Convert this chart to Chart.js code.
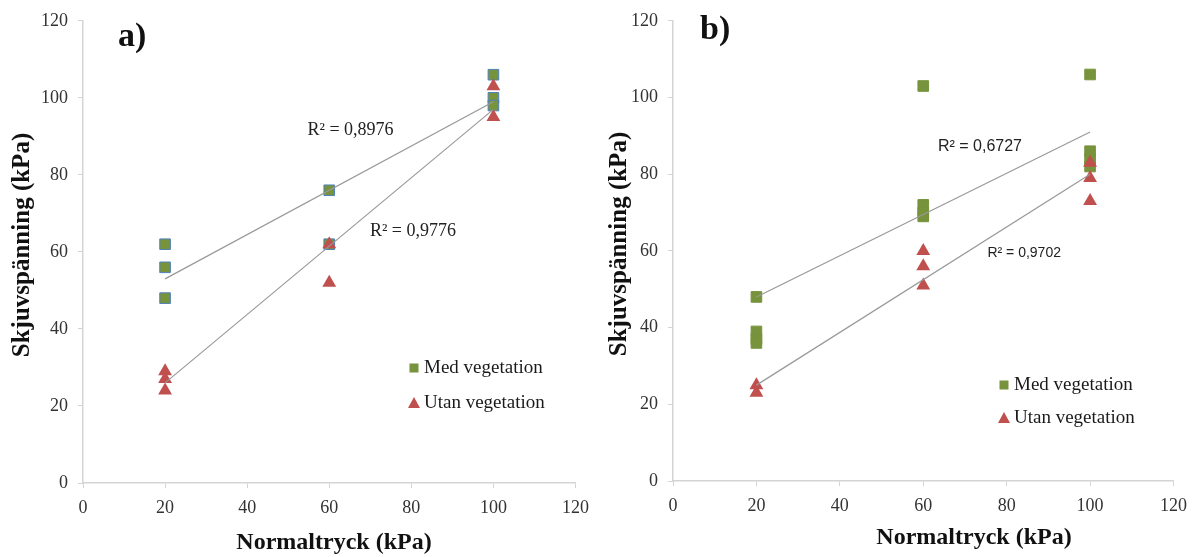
<!DOCTYPE html>
<html>
<head>
<meta charset="utf-8">
<script src="https://cdn.jsdelivr.net/npm/chart.js@4.4.0/dist/chart.umd.min.js"></script>
<style>
  html, body { margin:0; padding:0; background:#fff; }
  #wrap { position:relative; width:1196px; height:557px; }
  .panel { position:absolute; top:0; width:598px; height:557px; }
</style>
</head>
<body>
<div id="wrap">
  <div class="panel" style="left:0"><canvas id="chartA" width="598" height="557"></canvas></div>
  <div class="panel" style="left:598px"><canvas id="chartB" width="598" height="557"></canvas></div>
</div>
<script>
// Skjuvspänning vs normaltryck, med / utan vegetation
const seriesNames = ['Med vegetation', 'Utan vegetation'];
const xTitle = 'Normaltryck (kPa)';
const yTitle = 'Skjuvspänning (kPa)';
const axisMin = 0, axisMax = 120, axisStep = 20;

// panel a
const medAx  = [20, 20, 20, 60, 60, 100, 100, 100];
const medAy  = [62, 56, 48, 76, 62, 106, 100, 98];
const utanAx = [20, 20, 20, 60, 60, 100, 100];
const utanAy = [29, 27, 24, 62, 52, 103, 95];
const trendAx = [20, 100];
const trendMedAy  = [53, 99];
const trendUtanAy = [26, 97];
const r2A = ['R² = 0,8976', 'R² = 0,9776'];

// panel b
const medBx  = [20, 20, 20, 20, 60, 60, 60, 60, 100, 100, 100, 100];
const medBy  = [48, 39, 37, 36, 103, 72, 70, 69, 106, 86, 84, 82];
const utanBx = [20, 20, 60, 60, 60, 100, 100, 100];
const utanBy = [25, 23, 60, 56, 51, 83, 79, 73];
const trendBx = [20, 100];
const trendMedBy  = [48, 91];
const trendUtanBy = [25, 80];
const r2B = ['R² = 0,6727', 'R² = 0,9702'];

const GREEN = '#77933C', BLUE = '#4F81BD', RED = '#C0504D', LINE = '#999999', AXIS = '#d4d4d4';
const SERIF = '"Liberation Serif", "Times New Roman", serif';
const SANS = '"Liberation Sans", Arial, sans-serif';

function pts(xs, ys) { return xs.map((x, i) => ({x: x, y: ys[i]})); }

// free text: panel letter, axis titles, R² labels and the legend
const textPlugin = {
  id: 'panelText',
  afterDraw(chart, args, o) {
    const ctx = chart.ctx, sx = chart.scales.x, sy = chart.scales.y;
    ctx.save();
    ctx.fillStyle = '#111';
    ctx.textBaseline = 'middle';
    // panel letter
    ctx.font = 'bold 34px ' + SERIF;
    ctx.textAlign = 'left';
    ctx.fillText(o.letter, o.letterPos[0], o.letterPos[1]);
    // axis titles
    ctx.textAlign = 'center';
    ctx.font = 'bold 24px ' + SERIF;
    ctx.fillText(xTitle, o.xTitlePos[0], o.xTitlePos[1]);
    ctx.save();
    ctx.font = 'bold 25px ' + SERIF;
    ctx.translate(o.yTitlePos[0], o.yTitlePos[1]);
    ctx.rotate(-Math.PI / 2);
    ctx.fillText(yTitle, 0, 0);
    ctx.restore();
    // R² labels
    ctx.fillStyle = '#222';
    o.r2.forEach(r => {
      ctx.font = r.font;
      ctx.fillText(r.text, sx.getPixelForValue(r.at[0]), sy.getPixelForValue(r.at[1]));
    });
    // legend
    ctx.textAlign = 'left';
    ctx.font = '19px ' + SERIF;
    seriesNames.forEach((name, i) => {
      const mx = o.legend[0], my = o.legend[1] + i * o.legend[2];
      if (i === 0) {
        ctx.fillStyle = GREEN;
        ctx.fillRect(mx - 4.5, my - 4.5, 9, 9);
      } else {
        ctx.fillStyle = RED;
        ctx.beginPath();
        ctx.moveTo(mx, my - 6); ctx.lineTo(mx + 6, my + 5); ctx.lineTo(mx - 6, my + 5);
        ctx.closePath(); ctx.fill();
      }
      ctx.fillStyle = '#1a1a1a';
      ctx.fillText(name, mx + 10, my);
    });
    ctx.restore();
  }
};

function makeChart(id, d, lay, opts) {
  return new Chart(document.getElementById(id), {
    type: 'scatter',
    data: {
      datasets: [
        {label: 'trend med', data: pts(d.tx, d.tMed), showLine: true, borderColor: LINE, borderWidth: 1.2, pointRadius: 0},
        {label: 'trend utan', data: pts(d.tx, d.tUtan), showLine: true, borderColor: LINE, borderWidth: 1.2, pointRadius: 0},
        {label: seriesNames[1], data: pts(d.ux, d.uy), pointStyle: 'triangle', pointRadius: 8,
         backgroundColor: RED, borderColor: RED, borderWidth: 0},
        {label: seriesNames[0], data: pts(d.mx, d.my), pointStyle: 'rect', pointRadius: 7.5,
         backgroundColor: GREEN, borderColor: d.sqBorder, borderWidth: 1}
      ]
    },
    options: {
      responsive: false,
      animation: false,
      devicePixelRatio: 1,
      layout: {padding: {left: 0, right: lay.right, top: lay.top, bottom: 0}},
      plugins: {legend: {display: false}, tooltip: {enabled: false}, panelText: opts},
      scales: {
        x: {
          type: 'linear', min: axisMin, max: axisMax,
          afterFit: s => { s.height = lay.xh; },
          ticks: {stepSize: axisStep, padding: 9, color: '#333', font: {family: SERIF, size: 18}},
          grid: {drawOnChartArea: false, tickLength: 5, color: AXIS},
          border: {color: AXIS, width: 1.5}
        },
        y: {
          type: 'linear', min: axisMin, max: axisMax,
          afterFit: s => { s.width = lay.yw; },
          ticks: {stepSize: axisStep, padding: 10, color: '#333', font: {family: SERIF, size: 18}},
          grid: {drawOnChartArea: false, tickLength: 5, color: AXIS},
          border: {color: AXIS, width: 1.5}
        }
      }
    },
    plugins: [textPlugin]
  });
}

makeChart('chartA',
  {mx: medAx, my: medAy, ux: utanAx, uy: utanAy, tx: trendAx, tMed: trendMedAy, tUtan: trendUtanAy, sqBorder: BLUE},
  {right: 18, top: 15, xh: 74, yw: 83},
  {letter: 'a)', letterPos: [118, 37], xTitlePos: [334, 543], yTitlePos: [23, 245], legend: [414, 368, 35],
   r2: [{text: r2A[0], at: [65.2, 91.5], font: '18px ' + SERIF},
        {text: r2A[1], at: [80.4, 65.4], font: '18px ' + SERIF}]});

makeChart('chartB',
  {mx: medBx, my: medBy, ux: utanBx, uy: utanBy, tx: trendBx, tMed: trendMedBy, tUtan: trendUtanBy, sqBorder: GREEN},
  {right: 21, top: 13, xh: 76, yw: 75},
  {letter: 'b)', letterPos: [102, 30], xTitlePos: [376, 538], yTitlePos: [22, 244], legend: [406, 385, 33],
   r2: [{text: r2B[0], at: [73.6, 87.2], font: '16px ' + SANS},
        {text: r2B[1], at: [84.2, 59.3], font: '14px ' + SANS}]});
</script>
</body>
</html>
